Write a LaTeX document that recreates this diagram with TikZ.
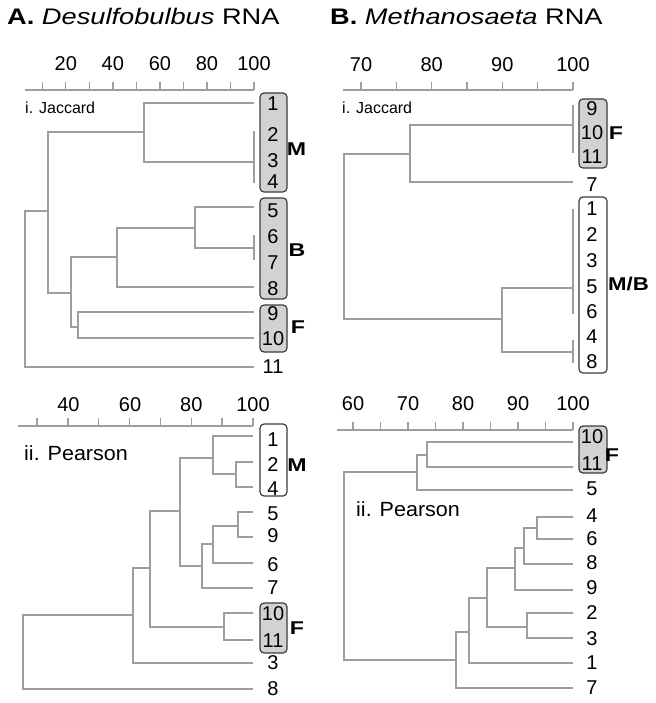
\documentclass[tikz,border=0pt]{standalone}
\usepackage{graphicx}
\usepackage{fontspec}
\setmainfont{Liberation Sans}
\definecolor{lgrey}{RGB}{158,158,158}
\definecolor{boxg}{RGB}{210,210,210}
\definecolor{bdr}{RGB}{60,60,60}
\begin{document}
\begin{tikzpicture}[x=1pt,y=-1pt,
 dl/.style={draw=lgrey,line width=2pt},
 tk/.style={draw=lgrey,line width=1.4pt},
 leaf/.style={font=\fontsize{20}{20}\selectfont,inner sep=0pt,anchor=center},
 grp/.style={font=\bfseries\fontsize{18.5}{18.5}\selectfont,inner sep=0pt,anchor=center},
 ttl/.style={font=\fontsize{22.5}{22.5}\selectfont,inner sep=0pt,anchor=base west},
 sub/.style={inner sep=0pt,anchor=west},
 gbox/.style={draw=bdr,fill=boxg,rounded corners=4pt,line width=1.2pt,inner sep=0pt},
 wbox/.style={draw=bdr,fill=white,rounded corners=4pt,line width=1.2pt,inner sep=0pt}]
\useasboundingbox (0,0) rectangle (655,703);
% titles
\node[ttl] (tA) at (7,25) {\scalebox{1.21}[1]{\textbf{A.} \textit{Desulfobulbus} RNA}};
\node[ttl] (tB) at (330,25) {\scalebox{1.21}[1]{\textbf{B.} \textit{Methanosaeta} RNA}};

% ===== A-i axis =====
\draw[dl] (25,90.5) -- (254,90.5);
\foreach \k in {0,...,9} \draw[tk] ({254-\k*23.53},90.5) -- ++(0,-8);
\foreach \v/\x in {20/65.8,40/112.8,60/159.9,80/206.9,100/254}
  \node[leaf] at (\x,64) {\v};
\node[sub,font=\fontsize{16}{16}\selectfont] (jA) at (25,108) {i. Jaccard};
% boxes
\node[gbox,minimum width=27pt,minimum height=99pt] (aiM) at (273.5,142.5) {};
\node[gbox,minimum width=27pt,minimum height=101pt] (aiB) at (273.5,248.5) {};
\node[gbox,minimum width=27pt,minimum height=47pt] (aiF) at (273.5,328.5) {};
% tree
\draw[dl] (254,103) -| (144,162) -- (254,162);
\draw[dl] (254,131) -- (254,183);
\draw[dl] (144,132) -| (48,293) -- (71,293);
\draw[dl] (254,207) -| (195,248) -- (254,248);
\draw[dl] (254,235) -- (254,260);
\draw[dl] (195,228) -| (117,287) -- (254,287);
\draw[dl] (117,257) -| (71,327) -- (78,327);
\draw[dl] (254,312) -| (78,338) -- (254,338);
\draw[dl] (48,211) -| (25,367) -- (254,367);
% leaves
\foreach \n/\y in {1/103.5,2/135,3/161,4/182,5/211,6/237,7/263,8/289,9/314,10/339,11/367}
  \node[leaf] (ai\n) at (273,\y) {\n};
\node[grp] (aiMl) at (296.5,149.5) {\scalebox{1.25}[1]{M}};
\node[grp] (aiBl) at (297,250) {\scalebox{1.25}[1]{B}};
\node[grp] (aiFl) at (298,327) {\scalebox{1.25}[1]{F}};

% ===== A-ii axis =====
\draw[dl] (18,426) -- (253,426);
\foreach \k in {0,...,7} \draw[tk] ({253-\k*30.86},426) -- ++(0,-8);
\foreach \v/\x in {40/68.4,60/130.1,80/191.3,100/253}
  \node[leaf] at (\x,404.5) {\v};
\node[sub,font=\fontsize{20.5}{20.5}\selectfont] (pA) at (24,453) {\scalebox{1.05}[1]{ii. Pearson}};
\node[wbox,minimum width=27pt,minimum height=72pt] (aiiM) at (273.5,460) {};
\node[gbox,minimum width=27pt,minimum height=50pt] (aiiF) at (273.5,628) {};
\draw[dl] (253,436) -| (213,474) -- (236,474);
\draw[dl] (253,462) -| (236,487) -- (253,487);
\draw[dl] (253,512) -| (238,537) -- (253,537);
\draw[dl] (238,526) -| (213,563) -- (253,563);
\draw[dl] (213,544) -| (202,588) -- (253,588);
\draw[dl] (202,566) -| (180,458) -- (213,458);
\draw[dl] (180,511) -| (150,627) -- (224,627);
\draw[dl] (253,613) -| (224,640) -- (253,640);
\draw[dl] (150,568) -| (133,663) -- (253,663);
\draw[dl] (133,615) -| (23,689) -- (253,689);
\foreach \n/\y in {1/440,2/465,4/489,5/514,9/536,6/565,7/588,10/614,11/641,3/663,8/689}
  \node[leaf] (aii\n) at (273,\y) {\n};
\node[grp] (aiiMl) at (297,465) {\scalebox{1.25}[1]{M}};
\node[grp] (aiiFl) at (297,628) {\scalebox{1.25}[1]{F}};

% ===== B-i axis =====
\draw[dl] (343,90.5) -- (573,90.5);
\foreach \k in {0,...,6} \draw[tk] ({573-\k*35.33},90.5) -- ++(0,-8);
\foreach \v/\x in {70/361,80/431.7,90/502.3,100/573}
  \node[leaf] at (\x,64.5) {\v};
\node[sub,font=\fontsize{16}{16}\selectfont] (jB) at (342,108) {i. Jaccard};
\node[gbox,minimum width=28pt,minimum height=69pt] (biF) at (593,133.5) {};
\node[wbox,minimum width=28pt,minimum height=176pt] (biMB) at (593,285) {};
\draw[dl] (573,105) -- (573,153);
\draw[dl] (573,125) -| (410,182) -- (573,182);
\draw[dl] (410,154) -| (344,319) -- (502,319);
\draw[dl] (573,209) -- (573,314);
\draw[dl] (573,288) -| (502,352) -- (573,352);
\draw[dl] (573,340) -- (573,363);
\foreach \n/\y in {9/109,10/133,11/157,7/185,1/209,2/235,3/261,5/287,6/312,4/337,8/362}
  \node[leaf] (bi\n) at (592,\y) {\n};
\node[grp] (biFl) at (616,133) {\scalebox{1.25}[1]{F}};
\node[grp] (biMBl) at (628.5,284) {\scalebox{1.2}[1]{M/B}};

% ===== B-ii axis =====
\draw[dl] (337,430) -- (573,430);
\foreach \k in {0,...,8} \draw[tk] ({573-\k*27.5},430) -- ++(0,-8);
\foreach \v/\x in {60/353,70/408,80/463,90/518,100/573}
  \node[leaf] at (\x,404) {\v};
\node[sub,font=\fontsize{20.5}{20.5}\selectfont] (pB) at (356,509) {\scalebox{1.05}[1]{ii. Pearson}};
\node[gbox,minimum width=28pt,minimum height=47pt] (biiF) at (593,449.5) {};
\draw[dl] (573,442) -| (427,467) -- (573,467);
\draw[dl] (427,455) -| (417,490) -- (573,490);
\draw[dl] (417,472) -| (344,660) -- (456,660);
\draw[dl] (573,517) -| (537,539) -- (573,539);
\draw[dl] (537,528) -| (524,564) -- (573,564);
\draw[dl] (524,548) -| (515,590) -- (573,590);
\draw[dl] (515,568) -| (487,627) -- (527,627);
\draw[dl] (573,613) -| (527,638) -- (573,638);
\draw[dl] (487,598) -| (469,663) -- (573,663);
\draw[dl] (469,632) -| (456,688) -- (573,688);
\foreach \n/\y in {10/437,11/464,5/489,4/516,6/539,8/563,9/588,2/613,3/639,1/663,7/688}
  \node[leaf] (bii\n) at (592,\y) {\n};
\node[grp] (biiFl) at (612,455) {\scalebox{1.25}[1]{F}};
\end{tikzpicture}
\end{document}
